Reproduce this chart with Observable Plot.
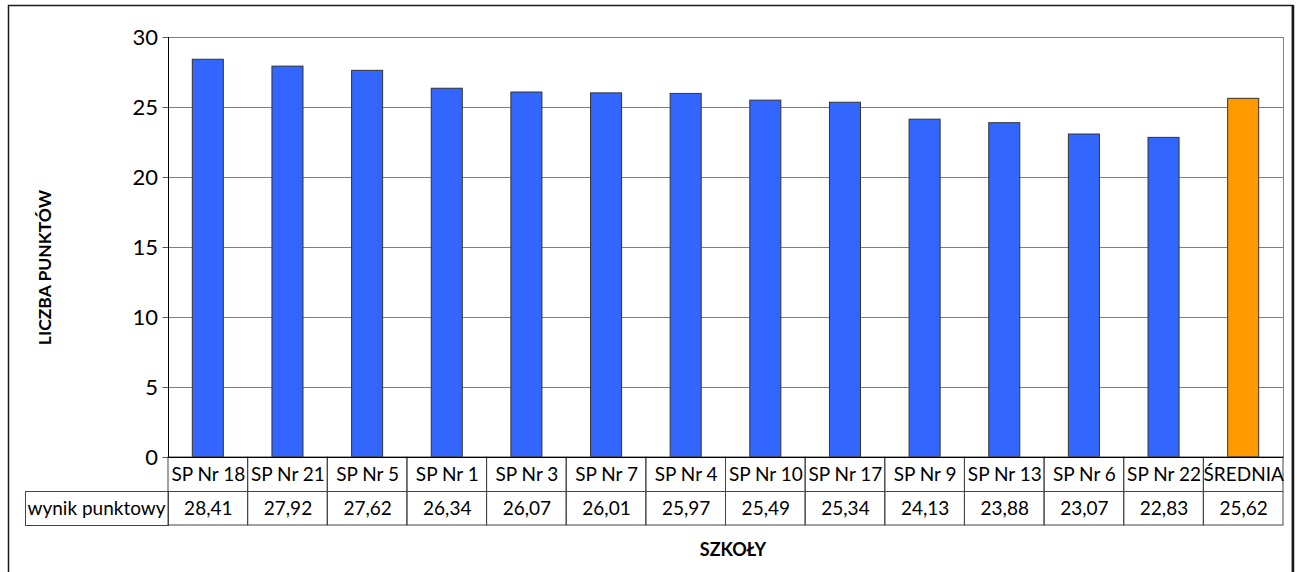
<!DOCTYPE html>
<html><head><meta charset="utf-8">
<script src="https://cdn.jsdelivr.net/npm/d3@7"></script>
<script src="https://cdn.jsdelivr.net/npm/@observablehq/plot@0.6"></script>
<style>
html,body{margin:0;padding:0;background:#fff;}
#chart svg{display:block;}
</style></head><body><div id="chart"></div>
<script>
const schools = ["SP Nr 18","SP Nr 21","SP Nr 5","SP Nr 1","SP Nr 3","SP Nr 7","SP Nr 4","SP Nr 10","SP Nr 17","SP Nr 9","SP Nr 13","SP Nr 6","SP Nr 22","ŚREDNIA"];
const scores = [28.41,27.92,27.62,26.34,26.07,26.01,25.97,25.49,25.34,24.13,23.88,23.07,22.83,25.62];
const kinds = ["szkoła","szkoła","szkoła","szkoła","szkoła","szkoła","szkoła","szkoła","szkoła","szkoła","szkoła","szkoła","szkoła","średnia"];
const kindColors = ["#3366FF","#FF9900"];
const yTicks = [0,5,10,15,20,25,30];
const yTitle = "LICZBA PUNKTÓW";
const xTitle = "SZKOŁY";
const rowLabel = "wynik punktowy";

const data = schools.map((s,i)=>({school:s, score:scores[i], kind:kinds[i]}));
const fmt = v => v.toFixed(2).replace(".", ",");

const W = 1297, H = 572, ML = 168, MR = 14, MT = 37, MB = 115;
const FONT = "Lato, 'Open Sans', sans-serif";

const plot = Plot.plot({
  width: W, height: H,
  marginLeft: ML, marginRight: MR, marginTop: MT, marginBottom: MB,
  style: {fontFamily: FONT, fontSize: "20px", color: "black", background: "white", overflow: "visible"},
  x: {domain: schools, padding: 0, round: false, axis: null},
  y: {domain: [0,30], axis: null},
  color: {type: "ordinal", domain: ["szkoła","średnia"], range: kindColors},
  marks: [
    Plot.ruleY(yTicks.filter(t=>t>0), {stroke:"#808080", strokeOpacity:1}),
    Plot.frame({stroke:"#808080", strokeOpacity:1}),
    Plot.barY(data, {x:"school", y:"score", fill:"kind", stroke:"#333", strokeWidth:1, insetLeft:24.3, insetRight:24.3}),
    Plot.barY(schools, {x:d=>d, y1:0, y2:0, insetBottom:-68, fill:"none", stroke:"#444", strokeWidth:1}),
    Plot.ruleY([0], {dy:34, stroke:"#444"}),
    Plot.ruleY([0], {stroke:"black"}),
    Plot.axisY(yTicks, {tickSize:5.5, tickPadding:5, label:null, fontSize:22, stroke:"#555"}),
    Plot.text(schools, {x:d=>d, frameAnchor:"bottom", lineAnchor:"middle", dy:17, fontSize:19}),
    Plot.text(data, {x:"school", text:d=>fmt(d.score), frameAnchor:"bottom", lineAnchor:"middle", dy:51, fontSize:19}),
    Plot.text([rowLabel], {frameAnchor:"bottom-left", lineAnchor:"middle", dx:-141, dy:51, textAnchor:"start", fontSize:19}),
    Plot.text([yTitle], {frameAnchor:"left", textAnchor:"middle", lineAnchor:"middle", dx:-123, dy:20, rotate:-90, fontWeight:"bold", fontSize:17.5}),
    Plot.text([xTitle], {frameAnchor:"bottom", textAnchor:"middle", lineAnchor:"middle", dx:7, dy:93, fontWeight:"bold", fontSize:18})
  ]
});
document.getElementById("chart").appendChild(plot);

const svg = d3.select(plot);
const y0 = plot.scale("y").apply(0);
// left axis line
svg.append("line").attr("x1", ML+0.5).attr("x2", ML+0.5).attr("y1", MT).attr("y2", y0+0.5).attr("stroke","black");
// row-label cell of the data table
svg.append("rect").attr("x", 25.5).attr("y", y0+34.5).attr("width", ML-25).attr("height", 34).attr("fill","none").attr("stroke","#444");
// outer chart border
svg.append("path").attr("d", `M8.5,${H} V5.5 H1292.5 V${H}`).attr("fill","none").attr("stroke","#1a1a1a").attr("stroke-width",1.5);
svg.append("line").attr("x1",1293).attr("x2",1293).attr("y1",5).attr("y2",H).attr("stroke","#1a1a1a").attr("stroke-width",2.5);
</script></body></html>
